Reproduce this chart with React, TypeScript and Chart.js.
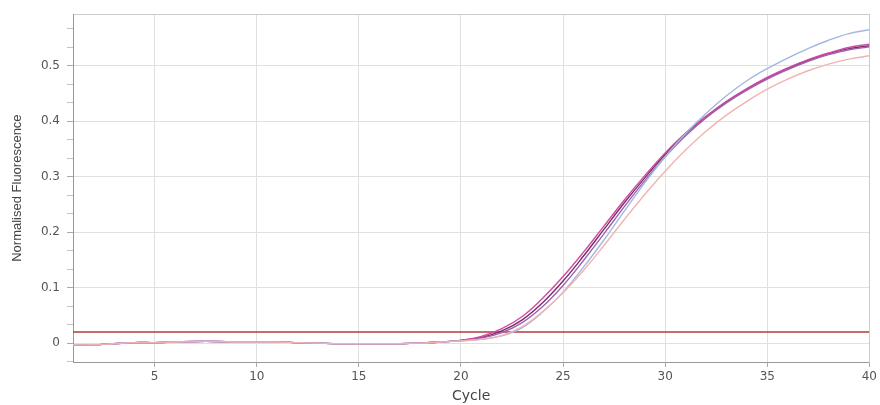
import React, { useEffect, useRef } from "react";
import { Chart, registerables } from "chart.js";

Chart.register(...registerables);

const cycles = [1,2,3,4,5,6,7,8,9,10,11,12,13,14,15,16,17,18,19,20,21,22,23,24,25,26,27,28,29,30,31,32,33,34,35,36,37,38,39,40];

const baseline = [-0.003,-0.003,-0.001,0.001,0.001,0.002,0.003,0.003,0.002,0.002,0.002,0.001,0.0,-0.001,-0.001,-0.001,-0.001,0.0,0.002];

const seriesBlue = [...baseline, 0.004,0.007,0.013,0.028,0.056,0.092,0.137,0.186,0.238,0.289,0.336,0.378,0.414,0.446,0.473,0.495,0.514,0.531,0.546,0.558,0.565];
const seriesSalmon = [...baseline, 0.004,0.007,0.014,0.030,0.057,0.091,0.131,0.176,0.223,0.268,0.310,0.348,0.382,0.411,0.436,0.458,0.476,0.491,0.503,0.512,0.518];
const seriesPurple = [...baseline, 0.005,0.009,0.019,0.037,0.066,0.104,0.149,0.197,0.246,0.293,0.336,0.374,0.406,0.433,0.456,0.476,0.493,0.508,0.520,0.529,0.534];
const seriesMagenta = [...baseline, 0.005,0.012,0.026,0.048,0.081,0.120,0.164,0.211,0.258,0.302,0.343,0.379,0.409,0.436,0.459,0.479,0.496,0.511,0.523,0.533,0.539];
const seriesDark = [...baseline, 0.005,0.010,0.022,0.042,0.073,0.112,0.157,0.205,0.253,0.298,0.340,0.377,0.408,0.435,0.458,0.478,0.495,0.510,0.522,0.531,0.536];

const threshold = 0.02;
const xTicks = [5,10,15,20,25,30,35,40];
const yMajorTicks = [0,0.1,0.2,0.3,0.4,0.5];
const yMinorTicks = [-0.0333,0.0333,0.0667,0.1333,0.1667,0.2333,0.2667,0.3333,0.3667,0.4333,0.4667,0.5333,0.5667];

const curves = [
  { label: "A", data: seriesSalmon, color: "#f0b4b0" },
  { label: "B", data: seriesBlue, color: "#a3b8dd" },
  { label: "C", data: seriesPurple, color: "#9c62b0" },
  { label: "D", data: seriesMagenta, color: "#d24aa2" },
  { label: "E", data: seriesDark, color: "#7a2c6a" },
];

export default function App() {
  const ref = useRef<HTMLCanvasElement>(null);
  useEffect(() => {
    if (!ref.current) return;
    const tickFont = "'DejaVu Sans', sans-serif";
    const titleFont = "'Liberation Sans', Arial, sans-serif";
    const isMajor = (v: number) => yMajorTicks.some((m) => Math.abs(m - v) < 1e-6);
    const datasets: any[] = curves.map((c) => ({
      label: c.label,
      data: cycles.map((x, i) => ({ x, y: c.data[i] })),
      borderColor: c.color,
      borderWidth: 1.4,
      pointRadius: 0,
      tension: 0.4,
      fill: false,
    }));
    datasets.push({
      label: "Threshold",
      data: [{ x: 1, y: threshold }, { x: 40, y: threshold }],
      borderColor: "#b03a3a",
      borderWidth: 1.5,
      pointRadius: 0,
      fill: false,
    });
    const allY = [...yMajorTicks, ...yMinorTicks].sort((a, b) => a - b);
    const chart = new Chart(ref.current, {
      type: "line",
      data: { datasets },
      options: {
        animation: false,
        responsive: false,
        layout: { padding: { top: 14, right: 6, left: 0, bottom: 0 } },
        plugins: { legend: { display: false }, tooltip: { enabled: false } },
        scales: {
          x: {
            type: "linear",
            min: 1,
            max: 40,
            afterBuildTicks: (s: any) => { s.ticks = xTicks.map((v) => ({ value: v })); },
            afterFit: (s: any) => { s.height = 43; },
            ticks: { color: "#555", font: { family: tickFont, size: 12 }, padding: 3, maxRotation: 0 },
            grid: { color: "#e0e0e0", tickLength: 5, tickColor: "#aaa" },
            border: { color: "#999", width: 1 },
            title: { display: true, text: "Cycle", color: "#444", font: { family: tickFont, size: 14 }, padding: { top: 0, bottom: 0 } },
          },
          x2: {
            type: "linear",
            position: "top",
            min: 1,
            max: 40,
            afterBuildTicks: (s: any) => { s.ticks = []; },
            afterFit: (s: any) => { s.height = 0; },
            ticks: { display: false },
            grid: { display: false },
            border: { color: "#ccc", width: 1 },
          },
          y: {
            min: -0.034,
            max: 0.593,
            afterBuildTicks: (s: any) => { s.ticks = allY.map((v) => ({ value: v })); },
            afterFit: (s: any) => { s.width = 73; },
            ticks: {
              color: "#555",
              font: { family: tickFont, size: 12 },
              padding: 7,
              autoSkip: false,
              callback: (v: any) => (isMajor(v) ? String(Math.round(v * 10) / 10) : ""),
            },
            grid: {
              color: (ctx: any) => (ctx.tick && isMajor(ctx.tick.value) ? "#e0e0e0" : "rgba(0,0,0,0)"),
              tickLength: 6,
              tickColor: (ctx: any) => (ctx.tick && isMajor(ctx.tick.value) ? "#aaa" : "#c4c4c4"),
            },
            border: { color: "#999", width: 1 },
            title: { display: true, text: "Normalised Fluorescence", color: "#444", font: { family: titleFont, size: 13 }, padding: { top: 10, bottom: 0 } },
          },
          yRight: {
            position: "right",
            min: -0.034,
            max: 0.593,
            afterBuildTicks: (s: any) => { s.ticks = []; },
            afterFit: (s: any) => { s.width = 0; },
            ticks: { display: false },
            grid: { display: false },
            border: { color: "#ccc", width: 1 },
          },
        },
      } as any,
    });
    return () => chart.destroy();
  }, []);
  return (
    <div style={{ position: "absolute", left: 0, top: 0, width: 880, height: 405, background: "#fff" }}>
      <canvas ref={ref} width={880} height={405} />
    </div>
  );
}
